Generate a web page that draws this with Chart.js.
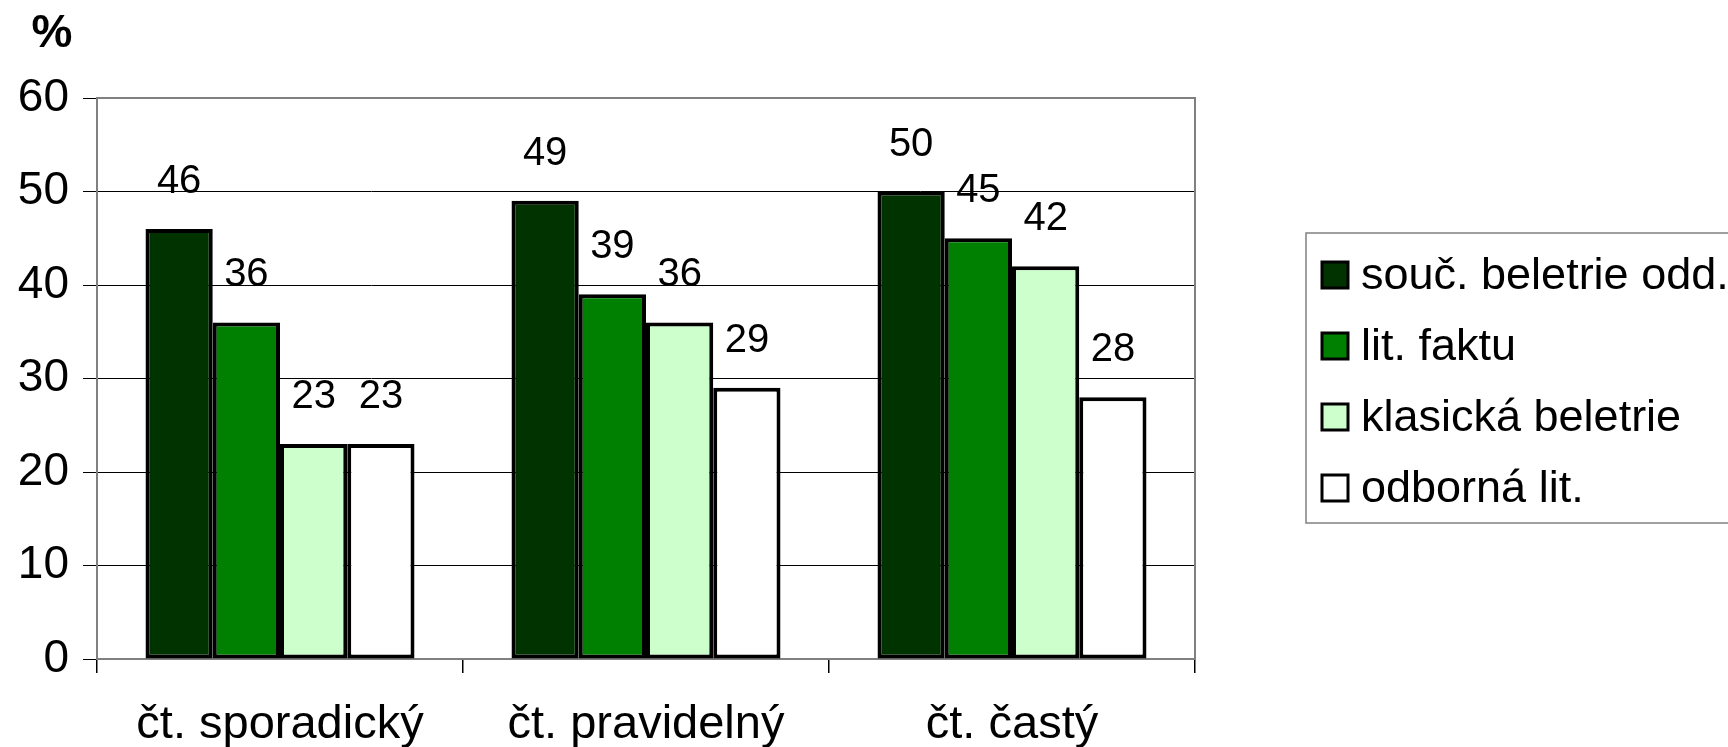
<!DOCTYPE html>
<html>
<head>
<meta charset="utf-8">
<script src="https://cdn.jsdelivr.net/npm/chart.js@4"></script>
<style>
  html, body { margin: 0; padding: 0; background: #fff; }
  canvas { display: block; }
</style>
</head>
<body>
<canvas id="chart" width="1728" height="747"></canvas>
<script>
// ====== DATA ======
const categories = ["čt. sporadický", "čt. pravidelný", "čt. častý"];
const seriesNames = ["souč. beletrie odd.", "lit. faktu", "klasická beletrie", "odborná lit."];
const soucBeletrie = [46, 49, 50];
const litFaktu = [36, 39, 45];
const klasickaBeletrie = [23, 36, 42];
const odbornaLit = [23, 29, 28];
const yTicks = [0, 10, 20, 30, 40, 50, 60];

const colors = ["#003300", "#008000", "#CCFFCC", "#FFFFFF"];
const FONT = "'Liberation Sans', Arial, sans-serif";

// ====== PLUGINS ======
// ramecek plochy grafu (sedy)
const plotBorder = {
  id: "plotBorder",
  beforeDatasetsDraw(chart) {
    const { ctx, chartArea: a } = chart;
    ctx.save();
    ctx.strokeStyle = "#808080";
    ctx.lineWidth = 2;
    ctx.strokeRect(a.left, a.top, a.right - a.left, a.bottom - a.top);
    ctx.restore();
  },
};

// hodnoty nad sloupci
const valueLabels = {
  id: "valueLabels",
  afterDatasetsDraw(chart) {
    const { ctx } = chart;
    ctx.save();
    ctx.font = "40px " + FONT;
    ctx.fillStyle = "#000";
    ctx.textAlign = "center";
    ctx.textBaseline = "alphabetic";
    chart.data.datasets.forEach((ds, i) => {
      chart.getDatasetMeta(i).data.forEach((bar, j) => {
        ctx.fillText(String(ds.data[j]), bar.x, bar.y - 36);
      });
    });
    ctx.restore();
  },
};

// legenda v ramecku + popisek osy "%"
const boxLegend = {
  id: "boxLegend",
  afterDraw(chart) {
    const { ctx } = chart;
    ctx.save();
    ctx.font = "bold 46px " + FONT;
    ctx.fillStyle = "#000";
    ctx.textAlign = "center";
    ctx.textBaseline = "middle";
    ctx.fillText("%", 52, 34);

    ctx.strokeStyle = "#808080";
    ctx.lineWidth = 1.5;
    ctx.strokeRect(1306, 233, 430, 290);

    ctx.font = "45px " + FONT;
    ctx.textAlign = "left";
    chart.data.datasets.forEach((ds, i) => {
      const cy = 275 + i * 71;
      ctx.fillStyle = ds.backgroundColor;
      ctx.fillRect(1322, cy - 13, 26, 26);
      ctx.strokeStyle = "#000";
      ctx.lineWidth = 3;
      ctx.strokeRect(1322, cy - 13, 26, 26);
      ctx.fillStyle = "#000";
      ctx.fillText(ds.label, 1361, cy + 2);
    });
    ctx.restore();
  },
};

// ====== GRAF ======
const seriesData = [soucBeletrie, litFaktu, klasickaBeletrie, odbornaLit];

new Chart(document.getElementById("chart"), {
  type: "bar",
  data: {
    labels: categories,
    datasets: seriesData.map((d, i) => ({
      label: seriesNames[i],
      data: d,
      backgroundColor: colors[i],
      borderColor: "#000",
      borderWidth: 4,
      borderSkipped: false,
      categoryPercentage: 0.735,
      barPercentage: 1.0,
    })),
  },
  options: {
    responsive: false,
    devicePixelRatio: 1,
    animation: false,
    layout: { padding: { top: 98, right: 533, left: 0, bottom: 0 } },
    plugins: {
      legend: { display: false },
      tooltip: { enabled: false },
    },
    scales: {
      x: {
        afterFit: (s) => { s.height = 88; },
        grid: {
          offset: true,
          drawOnChartArea: false,
          color: "#000",
          lineWidth: 1.5,
          tickLength: 14,
        },
        border: { display: false },
        ticks: {
          color: "#000",
          font: { family: FONT, size: 47 },
          padding: 24,
        },
      },
      y: {
        min: 0,
        max: 60,
        afterFit: (s) => { s.width = 97; },
        afterBuildTicks: (s) => { s.ticks = yTicks.map((v) => ({ value: v })); },
        grid: {
          color: "#000",
          lineWidth: 1,
          tickLength: 14,
        },
        border: { display: false },
        ticks: {
          color: "#000",
          font: { family: FONT, size: 46 },
          padding: 14,
        },
      },
    },
  },
  plugins: [plotBorder, valueLabels, boxLegend],
});
</script>
</body>
</html>
